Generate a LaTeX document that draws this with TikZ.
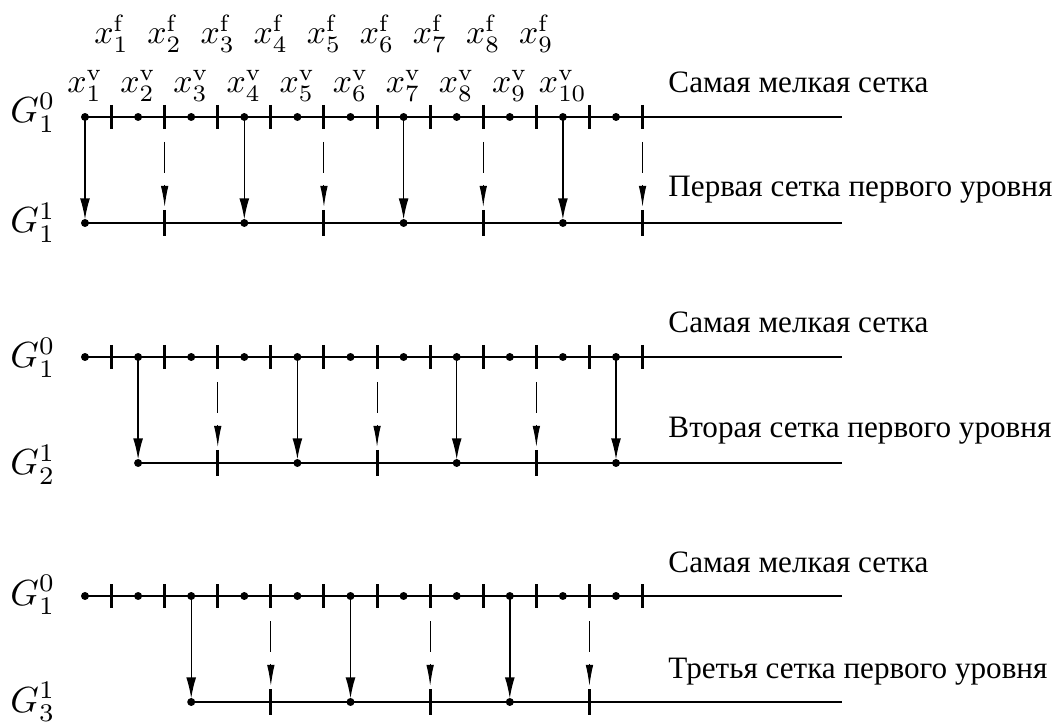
\documentclass[tikz,border=0pt]{standalone}
\usepackage[no-math]{fontspec}
\setmainfont{Liberation Serif}
\usetikzlibrary{arrows.meta}
\newcommand\mlab[2][1.44]{\scalebox{#1}{$#2$}}
\tikzset{
  fine/.style={line width=0.85pt},
  notch/.style={line width=1.3pt},
  push/.style={line width=0.6pt,shorten >=1.5pt,-{Latex[length=9pt,width=4.2pt]}},
  hint/.style={line width=0.45pt,dash pattern=on 13.2pt off 5.1pt,-{Latex[length=9pt,width=3.2pt]}},
  mlabel/.style={inner sep=0pt},
  tlabel/.style={inner sep=0pt,anchor=base west,font=\fontsize{13.3}{16}\selectfont}
}

\begin{document}
\begin{tikzpicture}[x=0.427pt,y=-0.427pt]
		%%%%% START %%%%%
		\useasboundingbox (0,0) rectangle (1062,722);
		
		% three pictures: finest grid at \yf, coarse grid \yf+106 starting at knot \p
		\foreach \p/\yf in {0/117,1/357,2/596}{
			\pgfmathsetmacro\yc{\yf+106}
			\draw[fine] (85,\yf) -- (842,\yf);
			\foreach \k in {0,...,10}{
				\pgfmathsetmacro\xv{85+53.1*\k}
				\pgfmathsetmacro\xf{\xv+26.55}
				\coordinate (v\p-\k) at (\xv,\yf);
				\fill (v\p-\k) circle (1.7pt);
				\draw[notch] (\xf,\yf-12) -- (\xf,\yf+12);
			}
			\coordinate (c\p) at ({85+53.1*\p},\yc);
			\draw[fine] (c\p) -- (842,\yc);
			\foreach \j in {0,...,3}{
				\pgfmathtruncatemacro\k{\p+3*\j}
				\pgfmathtruncatemacro\m{\p+3*\j+1}
				\ifnum\k<11
					\pgfmathsetmacro\xv{85+53.1*\k}
					\coordinate (w\p-\k) at (\xv,\yc);
					\fill (w\p-\k) circle (1.7pt);
					\draw[push] (v\p-\k) -- (w\p-\k);
				\fi
				\ifnum\m<11
					\pgfmathsetmacro\xf{85+53.1*(\m+0.5)}
					\coordinate (s\p-\m) at (\xf,\yf+25);
					\coordinate (e\p-\m) at (\xf,\yf+90);
					\draw[notch] (\xf,\yc-13) -- (\xf,\yc+13);
					\draw[hint] (s\p-\m) -- (e\p-\m);
				\fi
			}
		}
		
		% knots and faces of the finest grid
		\foreach \k in {1,...,10}
			\node[mlabel,anchor=base] (xv\k) at ({85+53.1*(\k-1)},93) {\mlab{x_{\k}^{\mathrm{v}}}};
		\foreach \k in {1,...,9}
			\node[mlabel,anchor=base] (xf\k) at ({85+53.1*(\k-0.5)},44) {\mlab{x_{\k}^{\mathrm{f}}}};
		
		\node[mlabel,anchor=base west] (g0) at (10,123) {\mlab[1.55]{G_1^0}};
		\node[mlabel,anchor=base west] (g1) at (10,233) {\mlab[1.55]{G_1^1}};
		\node[mlabel,anchor=base west] (g2) at (10,368) {\mlab[1.55]{G_1^0}};
		\node[mlabel,anchor=base west] (g3) at (10,475) {\mlab[1.55]{G_2^1}};
		\node[mlabel,anchor=base west] (g4) at (10,605) {\mlab[1.55]{G_1^0}};
		\node[mlabel,anchor=base west] (g5) at (10,712) {\mlab[1.55]{G_3^1}};
		
		\node[tlabel] (t0) at (668,93) {Самая мелкая сетка};
		\node[tlabel] (t1) at (668,197) {Первая сетка первого уровня};
		\node[tlabel] (t2) at (668,333) {Самая мелкая сетка};
		\node[tlabel] (t3) at (668,438) {Вторая сетка первого уровня};
		\node[tlabel] (t4) at (668,573) {Самая мелкая сетка};
		\node[tlabel] (t5) at (668,678) {Третья сетка первого уровня};
		%%%%% END %%%%%
\end{tikzpicture}
\end{document}
